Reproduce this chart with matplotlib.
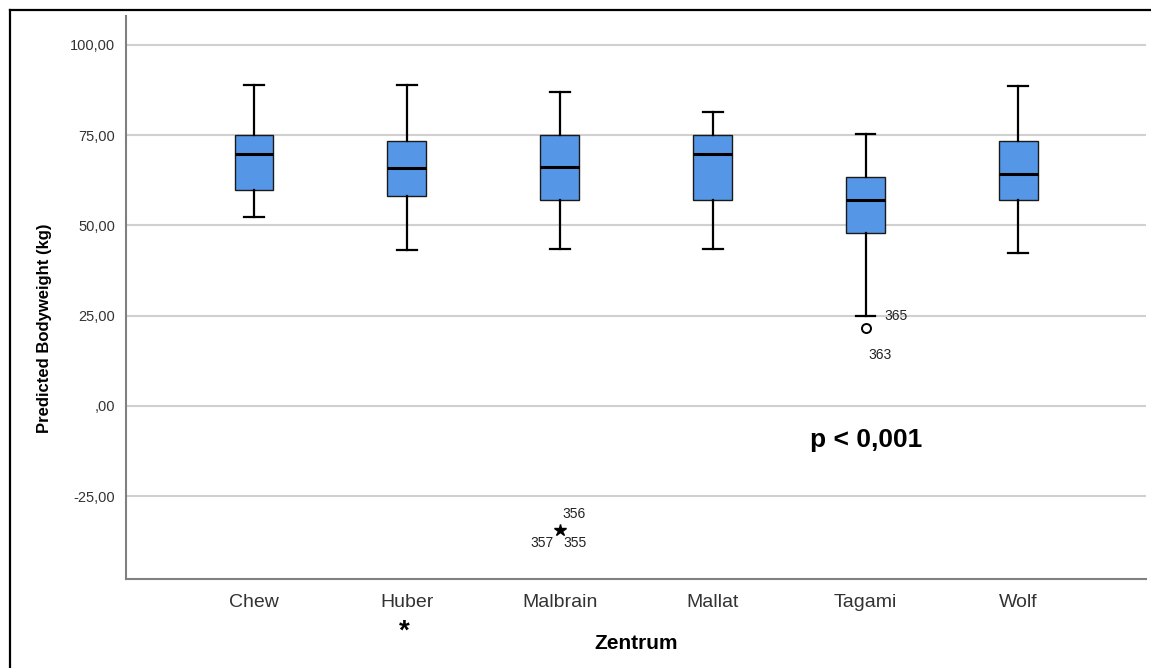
import matplotlib
matplotlib.use("Agg")
import matplotlib.pyplot as plt
from matplotlib.lines import Line2D

plt.rcParams['font.family'] = ['Liberation Sans', 'DejaVu Sans']

# data
centers = ['Chew', 'Huber', 'Malbrain', 'Mallat', 'Tagami', 'Wolf']
whisker_low = [52.4, 43.2, 43.5, 43.5, 24.9, 42.3]
q1 = [59.9, 58.0, 57.1, 57.1, 47.9, 57.1]
median = [69.8, 66.0, 66.2, 69.8, 57.0, 64.3]
q3 = [75.1, 73.4, 75.1, 75.1, 63.3, 73.3]
whisker_high = [88.8, 88.9, 87.0, 81.5, 75.2, 88.7]

# outliers (circle) and extremes (star)
outlier_pos = [5]
outlier_val = [21.6]
extreme_pos = [3]
extreme_val = [-34.4]

yticks = [-25, 0, 25, 50, 75, 100]
ytick_labels = ['-25,00', ',00', '25,00', '50,00', '75,00', '100,00']

box_color = '#5597e6'

fig = plt.figure(figsize=(11.51, 6.68), dpi=100)
ax = fig.add_axes([0.1095, 0.1332, 0.8862, 0.8428])

stats = []
for i in range(len(centers)):
    stats.append({'whislo': whisker_low[i], 'q1': q1[i], 'med': median[i],
                  'q3': q3[i], 'whishi': whisker_high[i], 'label': centers[i]})

ax.bxp(stats, positions=range(1, len(centers) + 1), widths=0.255, showfliers=False,
       patch_artist=True,
       boxprops=dict(facecolor=box_color, edgecolor='#1a1a1a', linewidth=1.0),
       medianprops=dict(color='black', linewidth=2.2),
       whiskerprops=dict(color='black', linewidth=1.6),
       capprops=dict(color='black', linewidth=1.6),
       capwidths=0.13, zorder=3)

ax.plot(outlier_pos, outlier_val, 'o', markerfacecolor='white', markeredgecolor='black',
        markersize=6.5, markeredgewidth=1.4, zorder=4)
ax.plot(extreme_pos, extreme_val, '*', color='black', markersize=9, zorder=4)

# case labels
ax.text(5.124, 24.9, '365', fontsize=10, color='#222222', ha='left', va='center')
ax.text(5.098, 14.1, '363', fontsize=10, color='#222222', ha='center', va='center')
ax.text(3.02, -30.0, '356', fontsize=10, color='#222222', ha='left', va='center')
ax.text(2.96, -38.0, '357', fontsize=10, color='#222222', ha='right', va='center')
ax.text(3.026, -38.0, '355', fontsize=10, color='#222222', ha='left', va='center')

ax.text(5.007, -9.4, 'p < 0,001', fontsize=19, fontweight='bold', ha='center', va='center')
ax.text(1.98, -62.5, '*', fontsize=20, fontweight='bold', ha='center', va='center',
        clip_on=False)

ax.set_xlim(0.163, 6.835)
ax.set_ylim(-48.0, 108.0)
ax.set_yticks(yticks)
ax.set_yticklabels(ytick_labels)
ax.set_xticks(range(1, len(centers) + 1))
ax.set_xticklabels(centers)
ax.tick_params(axis='y', length=0, labelsize=10.5, labelcolor='#333333', pad=8)
ax.tick_params(axis='x', length=0, labelsize=14, labelcolor='#333333', pad=11)

ax.yaxis.grid(True, color='#d0d0d0', linewidth=1.5, zorder=0)
ax.set_axisbelow(True)
for side in ['top', 'right']:
    ax.spines[side].set_visible(False)
for side in ['left', 'bottom']:
    ax.spines[side].set_color('#808080')
    ax.spines[side].set_linewidth(1.5)

ax.set_xlabel('Zentrum', fontsize=15, fontweight='bold', va='center')
ax.xaxis.set_label_coords(0.5, -0.114)
ax.set_ylabel('Predicted Bodyweight (kg)', fontsize=12, fontweight='bold', va='center')
ax.yaxis.set_label_coords(-0.080, 0.446)

# outer frame (left and top edges)
fx = 9.5 / 1151
fy = 1 - 9.5 / 668
fig.add_artist(Line2D([fx, fx], [0, fy], color='black', linewidth=1.6, transform=fig.transFigure))
fig.add_artist(Line2D([fx, 1], [fy, fy], color='black', linewidth=1.6, transform=fig.transFigure))

fig.savefig('out.png', dpi=100)
